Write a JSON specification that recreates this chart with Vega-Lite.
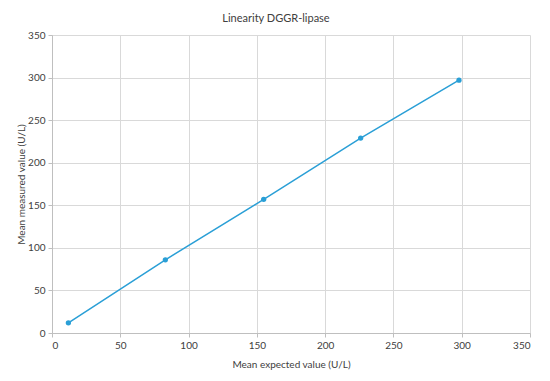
{
  "$schema": "https://vega.github.io/schema/vega-lite/v6.json",
  "autosize": {"type": "none"},
  "width": 478,
  "height": 298,
  "padding": {"left": 52, "top": 35, "right": 20, "bottom": 48},
  "background": "white",
  "title": {
    "text": "Linearity DGGR-lipase",
    "font": "Lato",
    "fontSize": 11,
    "fontWeight": "normal",
    "color": "#404040",
    "anchor": "middle",
    "dx": -15,
    "offset": 6
  },
  "data": {
    "values": [
      {"expected": 12, "measured": 12},
      {"expected": 83, "measured": 86},
      {"expected": 155, "measured": 157},
      {"expected": 226, "measured": 229},
      {"expected": 298, "measured": 297}
    ]
  },
  "mark": {
    "type": "line",
    "color": "#2a9fd6",
    "strokeWidth": 1.5,
    "point": {"filled": true, "size": 28, "color": "#2a9fd6"}
  },
  "encoding": {
    "x": {
      "field": "expected",
      "type": "quantitative",
      "scale": {"domain": [0, 350], "nice": false},
      "axis": {
        "title": "Mean expected value (U/L)",
        "values": [0, 50, 100, 150, 200, 250, 300, 350],
        "titlePadding": 9
      }
    },
    "y": {
      "field": "measured",
      "type": "quantitative",
      "scale": {"domain": [0, 350], "nice": false},
      "axis": {
        "title": "Mean measured value (U/L)",
        "values": [0, 50, 100, 150, 200, 250, 300, 350],
        "titlePadding": 1
      }
    }
  },
  "config": {
    "view": {"stroke": null},
    "axis": {
      "labelFont": "Lato",
      "labelFontSize": 10,
      "labelColor": "#404040",
      "titleFont": "Lato",
      "titleFontSize": 10,
      "titleFontWeight": "normal",
      "titleColor": "#404040",
      "gridColor": "#d9d9d9",
      "gridWidth": 1,
      "domainColor": "#bfbfbf",
      "tickColor": "#bfbfbf",
      "tickSize": 4,
      "labelPadding": 3
    }
  }
}
